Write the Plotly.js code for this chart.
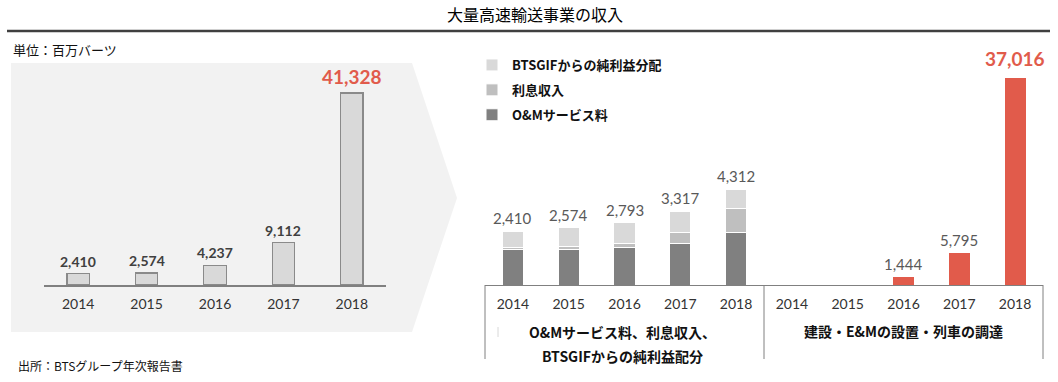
<!DOCTYPE html>
<html><head><meta charset="utf-8">
<script src="https://cdn.plot.ly/plotly-3.0.1.min.js"></script>
<style>html,body{margin:0;padding:0;background:#fff}#chart{width:1058px;height:382px}</style>
</head><body><div id="chart"></div>
<script>
// ---- data ----
const years = ['2014', '2015', '2016', '2017', '2018'];
const totalRevenue = [2410, 2574, 4237, 9112, 41328];
const omService = [1576, 1611, 1688, 1859, 2350];
const interestIncome = [121, 120, 164, 491, 1078];
const btsgifDistribution = [713, 843, 941, 967, 884];
const operatingTotals = [2410, 2574, 2793, 3317, 4312];
const constructionRevenue = [null, null, 1444, 5795, 37016];
const seriesNames = ['O&Mサービス料', '利息収入', 'BTSGIFからの純利益分配'];
const groupLabels = ['O&Mサービス料、利息収入、', 'BTSGIFからの純利益配分', '建設・E&Mの設置・列車の調達'];
const chartTitle = '大量高速輸送事業の収入';
const unitText = '単位：百万バーツ';
const sourceText = '出所：BTSグループ年次報告書';

// ---- layout helpers ----
const W = 1058, H = 382;
const px = x => x / W;
const py = y => 1 - y / H;
const NUM = 'Lato, "Noto Sans CJK JP", sans-serif';
const JP = '"Noto Sans CJK JP", sans-serif';
const RED = '#e15b4b';
const fmt = v => v.toLocaleString('en-US');

const traces = [
  {type: 'bar', x: years, y: totalRevenue, xaxis: 'x', yaxis: 'y', width: 0.33,
   marker: {color: '#d9d9d9', line: {color: '#8a8a8a', width: 1.2}}, showlegend: false, hoverinfo: 'skip'},
  {type: 'bar', name: seriesNames[0], x: years, y: omService, xaxis: 'x2', yaxis: 'y2', width: 0.38,
   marker: {color: '#808080', line: {color: '#ffffff', width: 1}}, legendgroup: 'om', legendrank: 3, hoverinfo: 'skip'},
  {type: 'bar', name: seriesNames[1], x: years, y: interestIncome, xaxis: 'x2', yaxis: 'y2', width: 0.38,
   marker: {color: '#bfbfbf', line: {color: '#ffffff', width: 1}}, legendgroup: 'int', legendrank: 2, hoverinfo: 'skip'},
  {type: 'bar', name: seriesNames[2], x: years, y: btsgifDistribution, xaxis: 'x2', yaxis: 'y2', width: 0.38,
   marker: {color: '#d9d9d9', line: {color: '#ffffff', width: 1}}, legendgroup: 'bts', legendrank: 1, hoverinfo: 'skip'},
  {type: 'bar', x: years, y: constructionRevenue, xaxis: 'x3', yaxis: 'y3', width: 0.38,
   marker: {color: RED}, showlegend: false, hoverinfo: 'skip'}
];

// annotations on category axes use the category index
const annotations = [];
totalRevenue.forEach((v, i) => {
  const big = i === totalRevenue.length - 1;
  annotations.push({xref: 'x', yref: 'y', x: i, y: v, text: fmt(v), showarrow: false,
    xanchor: 'center', yanchor: 'bottom', yshift: big ? 3 : 2,
    font: {family: NUM, size: big ? 19 : 14, color: big ? RED : '#404040', weight: 'bold'}});
});
operatingTotals.forEach((v, i) => {
  annotations.push({xref: 'x2', yref: 'y2', x: i, y: v, text: fmt(v), showarrow: false,
    xanchor: 'center', yanchor: 'bottom', yshift: 2, font: {family: NUM, size: 15, color: '#595959'}});
});
constructionRevenue.forEach((v, i) => {
  if (v === null) return;
  const big = i === constructionRevenue.length - 1;
  annotations.push({xref: 'x3', yref: 'y3', x: i, y: v, text: fmt(v), showarrow: false,
    xanchor: 'center', yanchor: 'bottom', yshift: big ? 6 : 2,
    font: {family: NUM, size: big ? 19 : 15, color: big ? RED : '#595959', weight: big ? 'bold' : 'normal'}});
});
const groupFont = {family: JP, size: 14, color: '#111', weight: 'bold'};
annotations.push(
  {xref: 'paper', yref: 'paper', x: px(622), y: py(332), xanchor: 'center', yanchor: 'middle',
   text: groupLabels[0], showarrow: false, font: groupFont},
  {xref: 'paper', yref: 'paper', x: px(622), y: py(356), xanchor: 'center', yanchor: 'middle',
   text: groupLabels[1], showarrow: false, font: groupFont},
  {xref: 'paper', yref: 'paper', x: px(903), y: py(331), xanchor: 'center', yanchor: 'middle',
   text: groupLabels[2], showarrow: false, font: groupFont},
  {xref: 'paper', yref: 'paper', x: px(11), y: py(50), xanchor: 'left', yanchor: 'middle',
   text: unitText, showarrow: false, font: {family: JP, size: 13, color: '#111'}},
  {xref: 'paper', yref: 'paper', x: px(16), y: py(365), xanchor: 'left', yanchor: 'middle',
   text: sourceText, showarrow: false, font: {family: JP, size: 12, color: '#111'}}
);

const shapes = [
  {type: 'path', xref: 'paper', yref: 'paper', layer: 'below', line: {width: 0}, fillcolor: '#f2f2f2',
   path: `M ${px(11)},${py(63)} L ${px(412)},${py(63)} L ${px(457)},${py(198)} L ${px(412)},${py(332)} L ${px(11)},${py(332)} Z`},
  {type: 'line', xref: 'paper', yref: 'paper', x0: px(7), x1: px(1050), y0: py(31), y1: py(31),
   line: {color: '#404040', width: 2.5}},
  {type: 'line', xref: 'paper', yref: 'paper', x0: px(485), x1: px(485), y0: py(285), y1: py(359), line: {color: '#808080', width: 1}},
  {type: 'line', xref: 'paper', yref: 'paper', x0: px(764), x1: px(764), y0: py(285), y1: py(359), line: {color: '#808080', width: 1}},
  {type: 'line', xref: 'paper', yref: 'paper', x0: px(1043), x1: px(1043), y0: py(285), y1: py(359), line: {color: '#808080', width: 1}},
  {type: 'line', xref: 'paper', yref: 'paper', x0: px(498), x1: px(498), y0: py(327), y1: py(337), line: {color: '#d8d8d8', width: 1}}
];

const xCommon = {type: 'category', range: [-0.5, 4.5], showgrid: false, zeroline: false, ticks: '', fixedrange: true,
  showline: true, linecolor: '#808080', ticklabelstandoff: 6, tickfont: {family: NUM, size: 14, color: '#333'}};

const layout = {
  width: W, height: H, margin: {l: 0, r: 0, t: 0, b: 0},
  paper_bgcolor: '#ffffff', plot_bgcolor: 'rgba(0,0,0,0)',
  barmode: 'stack', hovermode: false,
  title: {text: chartTitle, x: px(535), xanchor: 'center', y: py(15), yanchor: 'middle', yref: 'container',
    font: {family: JP, size: 16, color: '#000'}},
  xaxis: Object.assign({}, xCommon, {domain: [px(44), px(386)], anchor: 'y', linewidth: 1.5}),
  yaxis: {domain: [py(285), py(63)], range: [0, 222 / 0.004646], visible: false, fixedrange: true},
  xaxis2: Object.assign({}, xCommon, {domain: [px(485), px(764)], anchor: 'y2', linewidth: 1}),
  yaxis2: {domain: [py(285), py(185)], range: [0, 100 / 0.022263], visible: false, fixedrange: true},
  xaxis3: Object.assign({}, xCommon, {domain: [px(764), px(1043)], anchor: 'y3', linewidth: 1}),
  yaxis3: {domain: [py(285), py(63)], range: [0, 222 / 0.005592], visible: false, fixedrange: true},
  showlegend: true,
  legend: {x: px(472), y: py(50), xanchor: 'left', yanchor: 'top', traceorder: 'grouped',
    tracegroupgap: 5, bgcolor: 'rgba(0,0,0,0)', font: {family: JP, size: 13, color: '#111', weight: 'bold'}},
  annotations: annotations,
  shapes: shapes
};

Plotly.newPlot('chart', traces, layout, {staticPlot: true, displayModeBar: false});
</script>
</body></html>
